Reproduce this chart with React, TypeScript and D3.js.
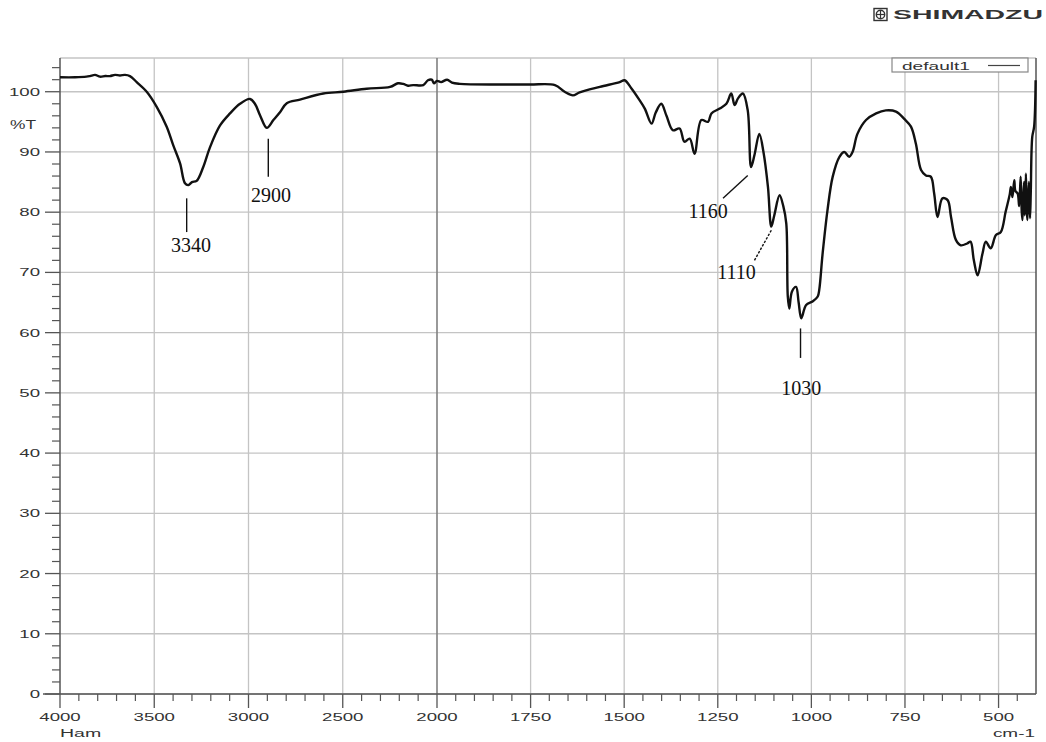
import React from "react";
import * as d3 from "d3";

// ---- data (wavenumber cm-1, %T) ----
const wavenumbers = [
  4000, 3920, 3860, 3841, 3814, 3788, 3760, 3735, 3708, 3682, 3655, 3629, 3593, 3540, 3487, 3434, 3399, 3363, 3337, 3319, 3300,
  3275, 3240, 3204, 3151, 3098, 3045, 2992, 2966, 2939, 2903, 2868, 2833, 2797, 2727, 2603, 2497, 2373, 2249, 2207,
  2179, 2154, 2126, 2073, 2048, 2028, 2016, 2000, 1989, 1973, 1960, 1939, 1832, 1752, 1685, 1659, 1637, 1619, 1565,
  1512, 1499, 1480, 1459, 1445, 1427, 1416, 1401, 1387, 1370, 1352, 1339, 1325, 1312, 1294, 1276, 1267, 1245, 1227,
  1214, 1205, 1196, 1183, 1170, 1161, 1152, 1139, 1128, 1116, 1107, 1099, 1085, 1075, 1067, 1063, 1059, 1052, 1041,
  1034, 1027, 1014, 996, 983, 979, 970, 957, 943, 925, 912, 899, 890, 877, 854, 827, 801, 774, 752, 734, 721, 707,
  694, 681, 672, 663, 650, 636, 627, 614, 601, 584, 575, 566, 556, 543, 534, 521, 507, 494, 481, 470, 467, 463, 458,
  455, 449, 445, 441, 438, 436, 432, 430, 427, 425, 423, 419, 416, 414, 410, 405, 401,
];
const transmittance = [
  102.4, 102.4, 102.5, 102.6, 102.8, 102.5, 102.6, 102.6, 102.8, 102.7, 102.8, 102.6, 101.6, 100.0, 97.5, 94.2, 91.1, 88.1, 84.8, 84.5, 85.0,
  85.2, 87.5, 90.8, 94.4, 96.4, 98.0, 98.8, 98.0, 96.1, 94.0, 95.3, 96.6, 98.1, 98.7, 99.7, 100.0, 100.5, 100.8, 101.4,
  101.3, 101.0, 101.1, 101.1, 101.9, 102.0, 101.4, 101.8, 101.6, 102.0, 101.5, 101.3, 101.2, 101.2, 101.1, 100.0, 99.4, 99.9, 100.8,
  101.6, 101.9, 100.5, 98.6, 97.2, 94.7, 96.5, 98.0, 96.0, 93.6, 93.9, 91.7, 92.2, 89.7, 95.3, 95.0, 96.4, 97.2, 98.0,
  99.7, 97.8, 98.9, 99.7, 96.9, 87.5, 89.5, 93.0, 90.0, 84.2, 77.6, 79.5, 82.8, 81.0, 78.1, 66.0, 64.0, 66.8, 67.6,
  65.0, 62.4, 64.6, 65.2, 66.0, 67.1, 73.1, 80.3, 85.9, 89.2, 90.0, 89.2, 90.0, 93.0, 95.3, 96.4, 96.9, 96.7, 95.5, 94.2, 91.4, 87.0,
  86.1, 85.9, 83.1, 79.2, 82.3, 82.0, 79.2, 75.4, 74.5, 74.8, 75.1, 72.0, 69.5, 73.1, 75.1, 74.0, 76.2, 76.7, 80.1, 83.0, 84.2, 82.5, 85.3,
  83.5, 83.1, 81.0, 85.9, 80.0, 78.7, 85.0, 79.5, 86.4, 80.5, 78.7, 85.0, 79.0, 83.1, 92.5, 94.2, 101.9,
];

const xMajorLeft = [4000, 3500, 3000, 2500, 2000];
const xMajorRight = [1750, 1500, 1250, 1000, 750, 500];
const yTicks = [0, 10, 20, 30, 40, 50, 60, 70, 80, 90, 100];

// peak annotations: label, line from (wn,t1) to (wn2,t2), label at (lx, ly)
const annLabels = ["3340", "2900", "1160", "1110", "1030"];
const annLineFrom = [[3328, 82.3], [2895, 92.2], [1170, 86.1], [1107, 77.0], [1029, 60.7]];
const annLineTo = [[3328, 76.7], [2895, 85.9], [1236, 82.3], [1152, 72.0], [1029, 55.8]];
const annTextPos = [[3305, 73.4], [2881, 81.7], [1276, 79.0], [1200, 68.9], [1027, 49.6]];
const annDashed = [false, false, false, true, false];

const W = 1046;
const H = 742;
const left = 60, right = 1036, top = 58, bottom = 694;

export default function App() {
  const x = d3.scaleLinear().domain([4000, 2000, 400]).range([left, 437, right]);
  const y = d3.scaleLinear().domain([0, 105.6]).range([bottom, top]);

  const pts: [number, number][] = wavenumbers.map((w, i) => [w, transmittance[i]]);
  const line = d3
    .line<[number, number]>()
    .x((d) => x(d[0]))
    .y((d) => y(d[1]))
    .curve(d3.curveCatmullRom.alpha(0.5));

  const minorLeft = d3.range(4000, 2000, -100).filter((v) => v % 500 !== 0);
  const minorRight = d3.range(2000, 400, -50).filter((v) => v % 250 !== 0);
  const yMinor = d3.range(0, 106, 2).filter((v) => v % 10 !== 0);

  const grid = "#c4c4c4";
  const axisC = "#555";
  const sx = 1.62;
  const tickFont = "'Liberation Sans', Arial, sans-serif";

  const allMajor = [...xMajorLeft, ...xMajorRight];

  return (
    <svg width={W} height={H} style={{ position: "absolute", left: 0, top: 0, background: "#fff" }}>
      {/* gridlines */}
      {yTicks.map((t) => (
        <line key={"hg" + t} x1={left} x2={right} y1={y(t)} y2={y(t)} stroke={grid} strokeWidth={1.3} />
      ))}
      <line x1={left} x2={right} y1={top} y2={top} stroke={grid} strokeWidth={1.3} />
      {allMajor.map((v) =>
        v === 4000 ? null : (
          <line
            key={"vg" + v}
            x1={x(v)}
            x2={x(v)}
            y1={top}
            y2={bottom}
            stroke={v === 2000 ? "#808080" : grid}
            strokeWidth={v === 2000 ? 1.6 : 1.3}
          />
        )
      )}

      {/* axes */}
      <line x1={left} x2={left} y1={top} y2={bottom} stroke={axisC} strokeWidth={1.5} />
      <line x1={left - 17} x2={right} y1={bottom} y2={bottom} stroke={axisC} strokeWidth={1.5} />
      <line x1={right} x2={right} y1={top} y2={bottom} stroke={axisC} strokeWidth={1.5} />

      {/* y ticks */}
      {yTicks.map((t) => (
        <g key={"yt" + t}>
          <line x1={left - 15} x2={left} y1={y(t)} y2={y(t)} stroke={axisC} strokeWidth={1.3} />
          <text
            transform={`translate(40,${y(t) + 4}) scale(${sx},1)`}
            textAnchor="end"
            fontFamily={tickFont}
            fontSize={11.5}
            fill="#333"
          >
            {t}
          </text>
        </g>
      ))}
      {yMinor.map((t) => (
        <line key={"ym" + t} x1={left - 8} x2={left} y1={y(t)} y2={y(t)} stroke={axisC} strokeWidth={1.2} />
      ))}
      <text transform={`translate(36,129) scale(1.45,1)`} textAnchor="end" fontFamily={tickFont} fontSize={12} fill="#333">
        %T
      </text>

      {/* x ticks */}
      {allMajor.map((v) => (
        <g key={"xt" + v}>
          <line x1={x(v)} x2={x(v)} y1={bottom} y2={bottom + 14} stroke={axisC} strokeWidth={1.3} />
          <text
            transform={`translate(${x(v)},721) scale(${sx},1)`}
            textAnchor="middle"
            fontFamily={tickFont}
            fontSize={11.5}
            fill="#333"
          >
            {v}
          </text>
        </g>
      ))}
      {[...minorLeft, ...minorRight].map((v) => (
        <line key={"xm" + v} x1={x(v)} x2={x(v)} y1={bottom} y2={bottom + 7} stroke={axisC} strokeWidth={1.2} />
      ))}
      <text transform={`translate(60,737) scale(1.7,1)`} fontFamily={tickFont} fontSize={11.5} fill="#333">
        Ham
      </text>
      <text transform={`translate(1035,737) scale(1.65,1)`} textAnchor="end" fontFamily={tickFont} fontSize={11.5} fill="#333">
        cm-1
      </text>

      {/* legend */}
      <rect x={892} y={top} width={136} height={14} fill="#fff" stroke="#888" strokeWidth={1.2} />
      <text transform={`translate(902,70) scale(1.66,1)`} fontFamily={tickFont} fontSize={11.5} fill="#333">
        default1
      </text>
      <line x1={988} x2={1020} y1={65.5} y2={65.5} stroke="#444" strokeWidth={1.2} />

      {/* spectrum */}
      <path d={line(pts) || ""} fill="none" stroke="#111" strokeWidth={2.4} strokeLinejoin="round" />

      {/* annotations */}
      {annLabels.map((lab, i) => (
        <g key={"an" + lab}>
          <line
            x1={x(annLineFrom[i][0])}
            y1={y(annLineFrom[i][1])}
            x2={x(annLineTo[i][0])}
            y2={y(annLineTo[i][1])}
            stroke="#111"
            strokeWidth={1.4}
            strokeDasharray={annDashed[i] ? "2.5,1.5" : undefined}
          />
          <text
            x={x(annTextPos[i][0])}
            y={y(annTextPos[i][1])}
            textAnchor="middle"
            fontFamily="'Liberation Serif', 'Times New Roman', serif"
            fontSize={20}
            fill="#111"
          >
            {lab}
          </text>
        </g>
      ))}

      {/* SHIMADZU logo */}
      <g>
        <rect x={874} y={8.5} width={13} height={12} fill="none" stroke="#333" strokeWidth={1.4} />
        <circle cx={880.5} cy={14.5} r={4.2} fill="none" stroke="#333" strokeWidth={1.4} />
        <line x1={876.3} x2={884.7} y1={14.5} y2={14.5} stroke="#333" strokeWidth={1.2} />
        <line x1={880.5} x2={880.5} y1={10.3} y2={18.7} stroke="#333" strokeWidth={1.2} />
        <text
          x={893}
          y={18.5}
          fontFamily={tickFont}
          fontWeight="bold"
          fontSize={12.5}
          fill="#333"
          textLength={150}
          lengthAdjust="spacingAndGlyphs"
        >
          SHIMADZU
        </text>
      </g>
    </svg>
  );
}
